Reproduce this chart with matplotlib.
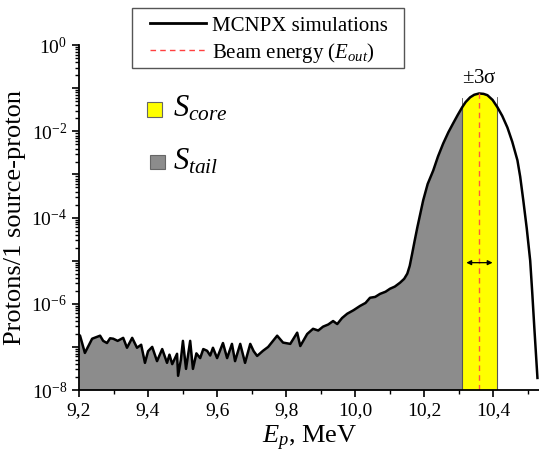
import numpy as np
import matplotlib
matplotlib.use('Agg')
import matplotlib.pyplot as plt
from matplotlib.patches import Rectangle
from matplotlib.lines import Line2D
from matplotlib.ticker import LogLocator, MultipleLocator, FuncFormatter, NullFormatter

plt.rcParams['font.family'] = ['Liberation Serif', 'DejaVu Serif']
plt.rcParams['mathtext.fontset'] = 'custom'
plt.rcParams['mathtext.rm'] = 'Liberation Serif'
plt.rcParams['mathtext.it'] = 'Liberation Serif:italic'

# proton energy (MeV) and log10 of protons per source proton
energy = [9.200, 9.203, 9.217, 9.238, 9.261, 9.270, 9.281, 9.290, 9.299, 9.312, 9.328,
          9.339, 9.354, 9.368, 9.380, 9.391, 9.400, 9.412, 9.426, 9.441, 9.455, 9.462,
          9.470, 9.484, 9.487, 9.495, 9.501, 9.510, 9.522, 9.530, 9.540, 9.551, 9.560,
          9.571, 9.580, 9.588, 9.600, 9.617, 9.629, 9.643, 9.652, 9.667, 9.681, 9.696,
          9.706, 9.716, 9.733, 9.748, 9.762, 9.774, 9.791, 9.812, 9.832, 9.841, 9.861,
          9.878, 9.893, 9.907, 9.922, 9.936, 9.948, 9.962, 9.977, 9.995, 10.014, 10.030,
          10.043, 10.058, 10.072, 10.088, 10.101, 10.115, 10.130, 10.142, 10.151, 10.158,
          10.165, 10.172, 10.180, 10.197, 10.210, 10.226, 10.240, 10.255, 10.270, 10.284,
          10.297, 10.310, 10.320, 10.333, 10.345, 10.359, 10.372, 10.383, 10.398, 10.412,
          10.426, 10.441, 10.455, 10.470, 10.478, 10.487, 10.497, 10.507, 10.513, 10.519,
          10.528]
log_flux = [-6.72, -6.74, -7.14, -6.81, -6.74, -6.86, -6.91, -6.80, -6.81, -6.86, -6.79,
            -7.02, -6.79, -7.02, -6.95, -7.37, -7.10, -7.00, -7.33, -7.05, -7.37, -7.18,
            -7.40, -7.16, -7.67, -7.30, -6.86, -7.51, -6.86, -7.51, -7.15, -7.26, -7.05,
            -7.09, -7.20, -7.02, -7.26, -6.91, -7.26, -6.93, -7.33, -6.93, -7.37, -6.93,
            -7.10, -7.21, -7.09, -7.00, -6.86, -6.74, -6.90, -6.93, -6.67, -6.98, -6.70,
            -6.58, -6.62, -6.53, -6.48, -6.40, -6.47, -6.33, -6.23, -6.15, -6.05, -5.98,
            -5.86, -5.84, -5.77, -5.72, -5.65, -5.60, -5.51, -5.42, -5.30, -5.12,
            -4.84, -4.55, -4.23, -3.60, -3.22, -2.91, -2.58, -2.28, -2.02, -1.81,
            -1.62, -1.44, -1.32, -1.21, -1.15, -1.12, -1.13, -1.16, -1.27, -1.44,
            -1.64, -1.91, -2.24, -2.67, -3.05, -3.60, -4.25, -5.00, -5.75, -6.56,
            -7.72]

core_lo = 10.31
core_hi = 10.41
beam_energy = 10.36
x_ticks = [9.2, 9.4, 9.6, 9.8, 10.0, 10.2, 10.4]

E = np.array(energy)
logf = np.array(log_flux)
flux = 10.0 ** logf

W, H = 539, 461
fig = plt.figure(figsize=(W / 100, H / 100), dpi=100)
ax = fig.add_axes([0.1466, 0.154, 0.855, 0.748])

bottom = 1e-8

def curve_segment(a, b):
    # curve between a and b, with both ends included
    inside = (E > a) & (E < b)
    xs = np.concatenate([[a], E[inside], [b]])
    ys = 10.0 ** np.interp(xs, E, logf)
    return xs, ys

xs, ys = curve_segment(energy[0], core_lo)
ax.fill_between(xs, bottom, ys, color='#8c8c8c', linewidth=0)
xs, ys = curve_segment(core_lo, core_hi)
ax.fill_between(xs, bottom, ys, color='#ffff00', linewidth=0)
for xe in (core_lo, core_hi):
    ye = 10.0 ** np.interp(xe, E, logf)
    ax.plot([xe, xe], [bottom, ye], color='#555555', lw=0.8)
    ax.plot([xe, xe], [ye, ye * 1.6], color='#555555', lw=0.6)

ax.plot(E, flux, color='black', lw=1.8, solid_joinstyle='round')
peak = 10.0 ** np.interp(beam_energy, E, logf)
ax.plot([beam_energy, beam_energy], [bottom, peak], color='#ff5a3c', lw=1.0,
        dashes=(4, 3))

ax.annotate('', xy=(core_lo + 0.004, 9e-6), xytext=(core_hi - 0.004, 9e-6),
            arrowprops=dict(arrowstyle='<|-|>', color='black', lw=0.9,
                            mutation_scale=7))
ax.text(beam_energy, 10 ** -1.0, r'$\pm$3σ', ha='center', va='bottom', fontsize=15)

ax.set_yscale('log')
ax.set_xlim(9.2, 10.535)
ax.set_ylim(1e-8, 1)
ax.set_xticks(x_ticks)
ax.xaxis.set_minor_locator(MultipleLocator(0.1))
ax.xaxis.set_major_formatter(FuncFormatter(lambda v, p: ('%.1f' % v).replace('.', ',')))
ax.yaxis.set_major_locator(LogLocator(base=10, numticks=20))
ax.yaxis.set_minor_locator(LogLocator(base=10, subs=np.arange(2, 10) * 1.0, numticks=20))
ax.yaxis.set_major_formatter(FuncFormatter(
    lambda v, p: r'$10^{%d}$' % round(np.log10(v)) if round(np.log10(v)) % 2 == 0 else ''))
ax.yaxis.set_minor_formatter(NullFormatter())
ax.tick_params(axis='both', which='major', direction='out', length=5, width=1.2,
               labelsize=14, colors='black')
ax.tick_params(axis='both', which='minor', direction='out', length=3, width=1.0)
for s in ('top', 'right'):
    ax.spines[s].set_visible(False)
for s in ('left', 'bottom'):
    ax.spines[s].set_linewidth(1.3)

ax.set_xlabel(r'$E_p$, MeV', fontsize=19, labelpad=4)
ax.set_ylabel('Protons/1 source-proton', fontsize=19, labelpad=4)

# S_core / S_tail key
tr = ax.transAxes
ax.add_patch(Rectangle((0.148, 0.792), 0.033, 0.044, transform=tr,
                       facecolor='#ffff00', edgecolor='#666666', lw=0.8, clip_on=False))
ax.add_patch(Rectangle((0.154, 0.640), 0.032, 0.042, transform=tr,
                       facecolor='#8c8c8c', edgecolor='#666666', lw=0.8, clip_on=False))
ax.text(0.203, 0.815, r'$S_{core}$', transform=tr, fontsize=22, va='center')
ax.text(0.203, 0.662, r'$S_{tail}$', transform=tr, fontsize=22, va='center')

# legend frame drawn separately so padding can match
fig.add_artist(Rectangle((132 / W, 1 - 68 / H), 272 / W, 60 / H,
                         transform=fig.transFigure, facecolor='white',
                         edgecolor='#555555', lw=1.0))
handles = [Line2D([], [], color='black', lw=2),
           Line2D([], [], color='#ff4040', lw=1, dashes=(4, 3))]
labels = ['MCNPX simulations', r'Beam energy ($E_{out}$)']
fig.legend(handles, labels, loc='upper left', bbox_to_anchor=(150 / W, 1 - 16 / H),
           borderaxespad=0, borderpad=0, fontsize=15, frameon=False,
           handlelength=2.7, labelspacing=0.25, handletextpad=0.3)

fig.savefig('out.png', dpi=100)
